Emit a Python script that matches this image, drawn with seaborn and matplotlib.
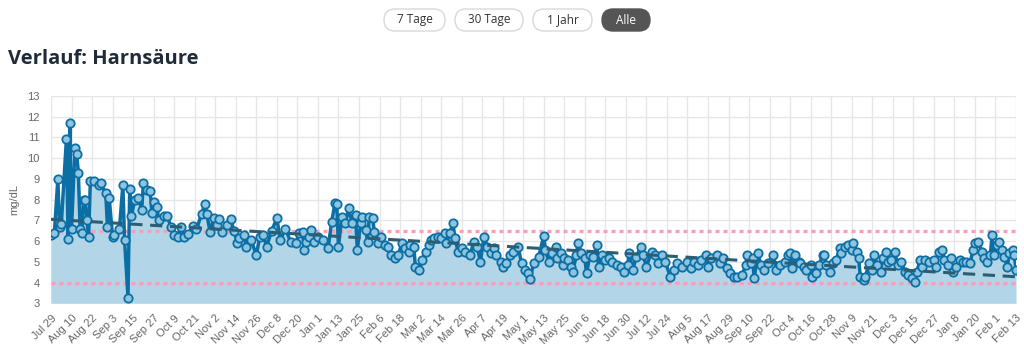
import pandas as pd
import numpy as np
import matplotlib
matplotlib.use("Agg")
import matplotlib.pyplot as plt
from matplotlib.patches import FancyBboxPatch
from matplotlib.transforms import IdentityTransform
import seaborn as sns

# Messwerte Harnsäure (mg/dL), Tage seit Startdatum
start_datum = "2022-07-29"
end_datum = "2024-02-13"

tage = [
    0, 2, 4, 5, 6, 9, 10, 11, 12, 14, 15, 16, 17, 18, 19, 20, 21, 22, 23, 25,
    28, 29, 32, 33, 34, 36, 37, 40, 42, 43, 45, 46, 47, 49, 51, 53, 54, 56, 58, 59,
    60, 62, 63, 66, 68, 70, 72, 74, 76, 78, 80, 83, 85, 88, 90, 91, 93, 95, 97, 98,
    100, 103, 105, 107, 109, 110, 113, 114, 117, 120, 122, 124, 126, 129, 132, 134, 137, 140, 143,
    145, 147, 148, 149, 151, 152, 154, 156, 159, 162, 164, 166, 167, 168, 170, 172, 174, 176, 178, 179,
    181, 182, 184, 185, 186, 188, 189, 191, 193, 195, 197, 199, 201, 203, 205, 207, 209, 210, 212, 213,
    215, 217, 219, 221, 222, 224, 226, 228, 230, 231, 233, 235, 236, 238, 240, 242, 245, 247, 249, 251,
    253, 255, 257, 259, 260, 263, 264, 266, 268, 270, 273, 275, 277, 279, 280, 282, 285,
    288, 289, 291, 293, 295, 296, 298, 299, 300, 302, 304, 305, 307, 308, 310, 312, 313, 315, 317, 319,
    320, 322, 324, 326, 328, 331, 333, 335, 337, 338, 340, 342, 345, 346, 348, 351, 353, 355, 357, 359,
    362, 364, 366, 369, 372, 374, 376, 378, 380, 383, 384, 386, 389, 391, 393, 395, 397, 399, 401, 404,
    406, 407, 409, 410, 411, 413, 415, 417, 419, 422, 424, 426, 429,
    431, 432, 433, 435, 437, 438, 440, 441, 444, 445, 447, 449, 451, 452, 453, 455, 457, 459, 461, 462,
    464, 466, 468, 469, 471, 472, 473, 475, 476, 478, 480, 481, 483, 485, 486, 488, 489, 491, 493, 495,
    497, 499, 501, 503, 505, 506, 508, 509, 511, 513, 516, 517, 519, 521, 522, 524, 526, 527, 529, 531,
    533, 535, 537, 539, 540, 542, 544, 545, 547, 549, 550, 551, 553, 554, 556, 557, 559, 560, 562, 563, 564,
]

werte = [
    6.3, 6.4, 9.0, 6.7, 6.8, 10.9, 6.1, 11.7, 6.6, 10.5, 10.2, 9.3, 6.6, 6.4, 8.0, 8.0, 7.0, 6.2, 8.9, 8.9,
    8.7, 8.8, 8.3, 6.7, 8.1, 6.2, 6.3, 6.6, 8.7, 6.05, 3.27, 8.5, 7.2, 8.0, 8.1, 7.5, 8.8, 8.45, 8.4, 7.33,
    7.9, 7.65, 7.0, 7.2, 7.2, 6.7, 6.3, 6.2, 6.7, 6.2, 6.33, 6.72, 6.56, 7.3, 7.8, 7.3, 6.45, 7.1, 6.77, 7.04,
    6.45, 6.77, 7.04, 6.5, 5.9, 6.13, 6.3, 5.73, 6.05, 5.33, 6.2, 6.3, 5.73, 6.5, 7.1, 6.05, 6.6, 5.97, 5.9,
    6.37, 6.45, 5.57, 5.97, 6.21, 6.53, 5.97, 6.21, 6.05, 5.65, 6.93, 7.82, 7.78, 5.73, 7.17, 6.85, 7.58, 6.85, 7.25, 5.57,
    6.85, 7.17, 6.53, 5.97, 7.17, 7.09, 6.45, 5.89, 6.21, 5.81, 5.73, 5.33, 5.17, 5.33, 5.89, 5.65, 5.49, 5.81, 5.73, 4.77,
    4.6, 5.09, 5.49, 5.81, 6.05, 6.13, 6.21, 6.13, 6.37, 5.89, 6.37, 6.85, 6.13, 5.49, 5.65, 5.49, 5.33, 5.97, 5.73, 5.01,
    6.21, 5.73, 5.41, 5.65, 5.33, 5.01, 4.77, 4.93, 5.33, 5.49, 5.73, 4.93, 4.6, 4.44, 4.16, 4.93, 5.25,
    6.24, 5.57, 5.0, 5.41, 5.73, 5.17, 5.41, 4.85, 5.17, 5.09, 4.77, 4.52, 5.33, 5.89, 5.41, 5.17, 4.44, 5.33, 5.25, 5.81,
    4.77, 5.33, 5.09, 5.17, 5.0, 4.85, 4.77, 4.52, 4.85, 5.41, 4.6, 5.25, 5.73, 5.33, 4.77, 5.49, 5.33, 4.93, 5.33, 5.0,
    4.28, 4.6, 4.93, 4.77, 5.0, 4.68, 5.0, 4.85, 5.09, 5.33, 4.77, 5.17, 5.33, 4.93, 5.17, 4.68, 4.44, 4.28, 4.28, 4.36,
    4.85, 5.33, 4.93, 5.17, 4.2, 5.41, 4.85, 4.6, 4.93, 5.33, 4.6, 4.85, 5.0,
    5.33, 5.41, 4.68, 5.33, 5.0, 4.93, 4.77, 4.6, 4.85, 4.28, 4.44, 4.85, 5.33, 5.33, 4.85, 4.52, 4.93, 5.09, 5.65, 5.41,
    5.73, 5.81, 5.57, 5.89, 5.49, 5.17, 4.28, 4.12, 4.28, 4.93, 4.6, 5.33, 4.85, 4.52, 5.17, 5.49, 5.0, 5.09, 5.49, 4.85,
    5.0, 4.52, 4.36, 4.2, 4.04, 4.52, 5.09, 4.77, 5.09, 5.0, 5.09, 4.77, 5.49, 5.57, 5.09, 4.85, 5.17, 4.52, 4.77, 5.09,
    5.0, 5.0, 4.93, 5.57, 5.89, 5.97, 5.49, 5.17, 5.0, 5.33, 6.29, 5.33, 5.81, 5.97, 5.57, 5.25, 4.77, 5.41, 5.57, 5.33, 4.6,
]

# Trendlinie (Anfang / Ende) und Referenzbereich
trend_werte = [7.05, 4.28]
referenz = [4.0, 6.5]

zeitraeume = ["7 Tage", "30 Tage", "1 Jahr", "Alle"]
aktiv = "Alle"

# Daten vorbereiten
df = pd.DataFrame({
    "Datum": pd.Timestamp(start_datum) + pd.to_timedelta(tage, unit="D"),
    "Wert": werte,
})
trend = pd.DataFrame({
    "Datum": pd.to_datetime([start_datum, end_datum]),
    "Wert": trend_werte,
})

sns.set_style("whitegrid")
plt.rcParams["font.family"] = ["Liberation Sans", "DejaVu Sans"]

fig = plt.figure(figsize=(10.24, 3.55), dpi=100)
ax = fig.add_axes([0.0498, 0.1456, 0.9424, 0.5844])

# Fläche + Linie mit Punkten
ax.fill_between(df["Datum"], df["Wert"], 3, color="#b2d6e7", linewidth=0, zorder=1)
for r in referenz:
    ax.axhline(r, color="#f5a0b6", linewidth=2.4, linestyle=(0, (1.2, 1.2)), zorder=2)
sns.lineplot(
    data=df, x="Datum", y="Wert", ax=ax,
    color="#0b6fa6", linewidth=2.5,
    marker="o", markersize=6,
    markerfacecolor="#8fc4df", markeredgecolor="#0b6fa6", markeredgewidth=1.3,
    zorder=3,
)
sns.lineplot(
    data=trend, x="Datum", y="Wert", ax=ax,
    color="#2c5d73", linewidth=2.2, dashes=False, zorder=4,
).lines[-1].set_dashes((4, 2.5))

# Achsen
ticks = pd.date_range(start_datum, end_datum, freq="12D")
ax.set_xlim(pd.Timestamp(start_datum), pd.Timestamp(end_datum))
ax.set_xticks(ticks)
ax.set_xticklabels([f"{d:%b} {d.day}" for d in ticks], rotation=45, ha="right",
                   rotation_mode="anchor")
ax.set_ylim(3, 13)
ax.set_yticks(range(3, 14))
ax.set_xlabel("")
ax.set_ylabel("mg/dL", fontsize=8, color="#666666", labelpad=6)
ax.tick_params(axis="x", colors="#666666", labelsize=8, length=5, width=1,
               color="#e6e6e6", pad=2)
ax.tick_params(axis="y", colors="#666666", labelsize=8, length=0, pad=8)
ax.grid(True, color="#e6e6e6", linewidth=1)
for s in ax.spines.values():
    s.set_visible(False)

# Titel
fig.text(8 / 1024, 1 - 64 / 355, "Verlauf: Harnsäure", fontsize=14.5,
         fontweight="bold", color="#1f2b38", family=["Open Sans", "DejaVu Sans"],
         va="baseline")

# Zeitraum-Buttons (Pixelkoordinaten, Ursprung unten links)
btn_x = [384, 455, 533, 602]
btn_w = [61, 68, 59, 48]
btn_h = 22
btn_y = 355 - 31
for label, bx, bw in zip(zeitraeume, btn_x, btn_w):
    ist_aktiv = label == aktiv
    box = FancyBboxPatch(
        (bx, btn_y), bw, btn_h,
        boxstyle=f"round,pad=0,rounding_size={btn_h / 2}",
        transform=IdentityTransform(),
        facecolor="#555555" if ist_aktiv else "white",
        edgecolor="#555555" if ist_aktiv else "#d9d9d9", linewidth=1,
    )
    fig.patches.append(box)
    fig.text((bx + bw / 2) / 1024, (btn_y + btn_h / 2) / 355, label, fontsize=8.5,
             color="white" if ist_aktiv else "#333333",
             family=["Open Sans", "DejaVu Sans"], ha="center", va="center")

fig.savefig("out.png", dpi=100)
